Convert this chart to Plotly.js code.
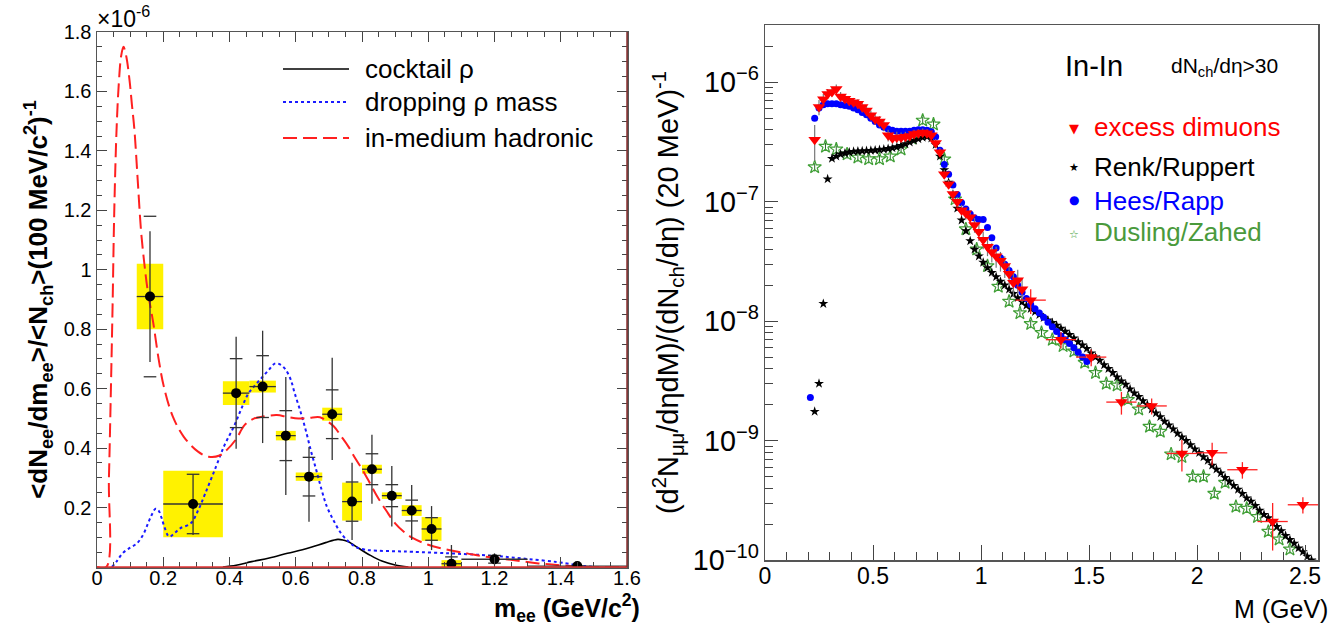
<!DOCTYPE html>
<html><head><meta charset="utf-8">
<script src="https://cdn.plot.ly/plotly-3.0.1.min.js"></script>
<style>html,body{margin:0;padding:0;background:#fff}#chart{width:1343px;height:630px}</style>
</head><body><div id="chart"></div>
<script>
// ---------------- LEFT PANEL DATA (units of 1e-6) ----------------
const ptX      = [0.16, 0.29, 0.42, 0.50, 0.57, 0.64, 0.71, 0.77, 0.83, 0.89, 0.95, 1.01, 1.07, 1.20, 1.45];
const ptY      = [0.91, 0.212, 0.585, 0.607, 0.442, 0.304, 0.514, 0.22, 0.329, 0.24, 0.19, 0.128, 0.011, 0.026, 0.003];
const ptXerr   = [0.04, 0.09, 0.04, 0.04, 0.03, 0.04, 0.03, 0.03, 0.03, 0.03, 0.03, 0.03, 0.03, 0.10, 0.15];
const errUp    = [0.22, 0.10, 0.19, 0.188, 0.197, 0.10, 0.19, 0.131, 0.116, 0.10, 0.086, 0.077, 0.063, 0.02, 0.005];
const errDn    = [0.22, 0.104, 0.187, 0.19, 0.20, 0.152, 0.154, 0.129, 0.116, 0.104, 0.099, 0.071, 0.06, 0.02, 0.005];
const tickErr  = [0.27, 0.10, 0.116, 0.104, 0.084, 0.065, 0.082, 0.066, 0.052, 0.037, 0.035, 0.038, 0.023, 0.013, 0.0];
const boxHalfW = [0.04, 0.09, 0.04, 0.04, 0.03, 0.04, 0.03, 0.03, 0.03, 0.03, 0.03, 0.03, 0.03, 0.0, 0.0];
const sysErr   = [0.11, 0.112, 0.04, 0.02, 0.016, 0.014, 0.022, 0.064, 0.015, 0.011, 0.018, 0.04, 0.012, 0.0, 0.0];

const cocktailX = [0.38, 0.42, 0.467, 0.52, 0.575, 0.62, 0.651, 0.69, 0.727, 0.745, 0.759, 0.79, 0.824, 0.86, 0.90, 0.94];
const cocktailY = [0.0, 0.006, 0.018, 0.03, 0.046, 0.058, 0.068, 0.082, 0.093, 0.09, 0.085, 0.063, 0.04, 0.02, 0.007, 0.0];

const droppingX = [0.045, 0.06, 0.078, 0.10, 0.121, 0.14, 0.154, 0.165, 0.177, 0.186, 0.195, 0.205, 0.218, 0.235, 0.251, 0.283, 0.305, 0.327, 0.359, 0.385, 0.413, 0.435, 0.457, 0.48, 0.50, 0.52, 0.538, 0.555, 0.57, 0.585, 0.597, 0.615, 0.63, 0.646, 0.662, 0.678, 0.694, 0.715, 0.737, 0.76, 0.78, 0.81, 0.846, 0.90, 0.954, 1.062, 1.15, 1.225, 1.30, 1.387, 1.44, 1.473, 1.50];
const droppingY = [0.0, 0.02, 0.047, 0.065, 0.08, 0.11, 0.147, 0.175, 0.196, 0.19, 0.165, 0.13, 0.102, 0.115, 0.13, 0.147, 0.19, 0.248, 0.337, 0.41, 0.472, 0.53, 0.584, 0.615, 0.64, 0.665, 0.685, 0.68, 0.663, 0.63, 0.584, 0.52, 0.461, 0.39, 0.326, 0.26, 0.203, 0.155, 0.113, 0.085, 0.068, 0.058, 0.055, 0.053, 0.051, 0.046, 0.041, 0.035, 0.027, 0.017, 0.008, 0.003, 0.0];

const hadronicX = [0.0, 0.028, 0.036, 0.042, 0.047, 0.052, 0.059, 0.066, 0.073, 0.08, 0.088, 0.098, 0.105, 0.113, 0.123, 0.133, 0.143, 0.153, 0.17, 0.186, 0.202, 0.229, 0.262, 0.305, 0.337, 0.37, 0.392, 0.42, 0.446, 0.475, 0.50, 0.543, 0.575, 0.608, 0.64, 0.673, 0.695, 0.716, 0.737, 0.759, 0.78, 0.802, 0.825, 0.846, 0.873, 0.90, 0.927, 0.954, 1.0, 1.062, 1.12, 1.17, 1.25, 1.333, 1.41, 1.473, 1.6];
const hadronicY = [0.0, 0.0, 0.3, 0.6, 0.876, 1.19, 1.47, 1.63, 1.72, 1.75, 1.72, 1.64, 1.56, 1.47, 1.30, 1.13, 1.02, 0.93, 0.82, 0.70, 0.606, 0.506, 0.438, 0.388, 0.371, 0.375, 0.394, 0.43, 0.478, 0.50, 0.506, 0.511, 0.505, 0.50, 0.502, 0.504, 0.49, 0.472, 0.44, 0.405, 0.365, 0.326, 0.28, 0.237, 0.19, 0.147, 0.118, 0.097, 0.075, 0.057, 0.045, 0.035, 0.024, 0.012, 0.005, 0.001, 0.0];

const leftLegend = ["cocktail ρ", "dropping ρ mass", "in-medium hadronic"];

// ---------------- RIGHT PANEL DATA ----------------
const redLowM = [0.23,0.25,0.27,0.29,0.31,0.33,0.35,0.37,0.39,0.41,0.43,0.45,0.47,0.49,0.51,0.53,0.55,0.57,0.59,0.61,0.63,0.65,0.67,0.69,0.71,0.73,0.75,0.77,0.79,0.81,0.83,0.85,0.87,0.89,0.91,0.93,0.95,0.97,0.99,1.01,1.03,1.05,1.07,1.09,1.11,1.13,1.15,1.17,1.19];
const redLowY = [3.3e-7,6.2e-7,7.2e-7,8.0e-7,8.3e-7,8.8e-7,7.6e-7,7.3e-7,7.0e-7,6.8e-7,6.6e-7,6.2e-7,5.8e-7,5.3e-7,4.9e-7,4.7e-7,4.4e-7,3.6e-7,3.4e-7,3.45e-7,3.45e-7,3.5e-7,3.55e-7,3.7e-7,3.75e-7,3.8e-7,3.75e-7,3.6e-7,3.1e-7,2.6e-7,1.7e-7,1.4e-7,1.16e-7,1.0e-7,8.5e-8,8.0e-8,7.4e-8,6.4e-8,5.6e-8,4.8e-8,4.2e-8,3.8e-8,3.5e-8,3.2e-8,2.9e-8,2.5e-8,2.1e-8,2.2e-8,1.85e-8];
const redLowErr = [1.1e-7,0.9e-7,0.8e-7,0.8e-7,0.7e-7,0.8e-7,0.7e-7,0.6e-7,0.6e-7,0.6e-7,0.6e-7,0.6e-7,0.6e-7,0.5e-7,0.5e-7,0.5e-7,0.5e-7,0.4e-7,0.4e-7,0.4e-7,0.35e-7,0.35e-7,0.3e-7,0.3e-7,0.3e-7,0.3e-7,0.3e-7,0.3e-7,0.25e-7,0.2e-7,1.5e-8,1.2e-8,1.0e-8,1.0e-8,0.9e-8,0.9e-8,0.9e-8,0.9e-8,0.9e-8,0.8e-8,0.7e-8,0.7e-8,0.7e-8,0.6e-8,0.6e-8,0.5e-8,0.5e-8,0.5e-8,0.4e-8];

const redHighM = [1.23, 1.37, 1.51, 1.65, 1.79, 1.93, 2.07, 2.21, 2.35, 2.49];
const redHighY = [1.5e-8, 7.0e-9, 5.0e-9, 2.1e-9, 1.95e-9, 7.8e-10, 7.9e-10, 5.7e-10, 2.1e-10, 2.9e-10];
const redHighErr = [3.5e-9, 1.1e-9, 0.8e-9, 0.45e-9, 0.3e-9, 2.3e-10, 1.7e-10, 0.9e-10, 0.9e-10, 0.45e-10];
const redHighBinHalf = [0.07, 0.07, 0.07, 0.07, 0.07, 0.07, 0.07, 0.07, 0.07, 0.07];

const renkM = [0.23,0.25,0.27,0.29,0.31,0.33,0.35,0.37,0.39,0.41,0.43,0.45,0.47,0.49,0.51,0.53,0.55,0.57,0.59,0.61,0.63,0.65,0.67,0.69,0.71,0.73,0.75,0.77,0.79,0.81,0.83,0.85,0.87,0.89,0.91,0.93,0.95,0.97,0.99,1.01,1.03,1.05,1.07,1.09,1.11,1.13,1.15,1.17,1.19,1.21,1.23,1.25,1.27,1.29,1.31,1.33,1.35,1.37,1.39,1.41,1.43,1.45,1.47,1.49,1.51,1.53,1.55,1.57,1.59,1.61,1.63,1.65,1.67,1.69,1.71,1.73,1.75,1.77,1.79,1.81,1.83,1.85,1.87,1.89,1.91,1.93,1.95,1.97,1.99,2.01,2.03,2.05,2.07,2.09,2.11,2.13,2.15,2.17,2.19,2.21,2.23,2.25,2.27,2.29,2.31,2.33,2.35,2.37,2.39,2.41,2.43,2.45,2.47,2.49,2.51,2.53,2.55];
const renkY = [1.75e-9,3.0e-9,1.4e-8,1.55e-7,2.3e-7,2.4e-7,2.5e-7,2.55e-7,2.6e-7,2.63e-7,2.65e-7,2.66e-7,2.67e-7,2.68e-7,2.7e-7,2.72e-7,2.75e-7,2.78e-7,2.82e-7,2.88e-7,2.95e-7,3.05e-7,3.15e-7,3.25e-7,3.35e-7,3.45e-7,3.5e-7,3.4e-7,3.0e-7,2.4e-7,1.85e-7,1.45e-7,1.15e-7,8.8e-8,7.0e-8,5.7e-8,4.7e-8,4.0e-8,3.5e-8,3.1e-8,2.8e-8,2.55e-8,2.35e-8,2.15e-8,2.0e-8,1.85e-8,1.7e-8,1.57e-8,1.45e-8,1.35e-8,1.27e-8,1.2e-8,1.13e-8,1.07e-8,1.02e-8,9.7e-9,9.2e-9,8.7e-9,8.2e-9,7.7e-9,7.2e-9,6.7e-9,6.3e-9,5.9e-9,5.4e-9,5.0e-9,4.7e-9,4.3e-9,4.0e-9,3.7e-9,3.4e-9,3.15e-9,2.95e-9,2.7e-9,2.5e-9,2.33e-9,2.15e-9,2.0e-9,1.83e-9,1.7e-9,1.58e-9,1.45e-9,1.35e-9,1.25e-9,1.15e-9,1.07e-9,1.0e-9,9.2e-10,8.5e-10,7.9e-10,7.3e-10,6.8e-10,6.2e-10,5.75e-10,5.35e-10,4.9e-10,4.55e-10,4.2e-10,3.9e-10,3.6e-10,3.3e-10,3.1e-10,2.85e-10,2.6e-10,2.4e-10,2.25e-10,2.05e-10,1.9e-10,1.75e-10,1.6e-10,1.48e-10,1.38e-10,1.26e-10,1.17e-10,1.07e-10,1.0e-10,0.93e-10];

const heesM = [0.21,0.23,0.25,0.27,0.29,0.31,0.33,0.35,0.37,0.39,0.41,0.43,0.45,0.47,0.49,0.51,0.53,0.55,0.57,0.59,0.61,0.63,0.65,0.67,0.69,0.71,0.73,0.75,0.77,0.79,0.81,0.83,0.85,0.87,0.89,0.91,0.93,0.95,0.97,0.99,1.01,1.03,1.05,1.07,1.09,1.11,1.13,1.15,1.17,1.19,1.21,1.23,1.25,1.27,1.29,1.31,1.33,1.35,1.37,1.39,1.41,1.43,1.45,1.47,1.49];
const heesY = [2.3e-9,5.0e-7,6.1e-7,6.5e-7,6.6e-7,6.6e-7,6.6e-7,6.5e-7,6.4e-7,6.3e-7,6.1e-7,5.9e-7,5.6e-7,5.35e-7,5.0e-7,4.7e-7,4.4e-7,4.2e-7,4.07e-7,3.97e-7,3.9e-7,3.9e-7,3.9e-7,3.9e-7,3.97e-7,4.0e-7,4.0e-7,3.97e-7,3.85e-7,3.5e-7,2.7e-7,2.05e-7,1.7e-7,1.38e-7,1.15e-7,9.8e-8,8.7e-8,7.9e-8,7.3e-8,7.1e-8,7.1e-8,6.1e-8,5.0e-8,4.1e-8,3.4e-8,3.0e-8,2.65e-8,2.35e-8,2.0e-8,1.75e-8,1.55e-8,1.38e-8,1.27e-8,1.17e-8,1.08e-8,9.8e-9,9.0e-9,8.2e-9,7.5e-9,7.0e-9,6.5e-9,6.0e-9,5.5e-9,5.0e-9,4.6e-9];

const duslingM = [0.23,0.28,0.33,0.38,0.43,0.48,0.53,0.58,0.63,0.68,0.73,0.78,0.83,0.88,0.93,0.98,1.03,1.08,1.13,1.18,1.23,1.28,1.33,1.38,1.43,1.48,1.53,1.58,1.63,1.68,1.73,1.78,1.83,1.88,1.93,1.98,2.03,2.08,2.13,2.18,2.23,2.28,2.33,2.38,2.43];
const duslingY = [1.95e-7,2.9e-7,2.75e-7,2.5e-7,2.35e-7,2.28e-7,2.28e-7,2.4e-7,2.75e-7,3.4e-7,4.8e-7,4.45e-7,2.27e-7,1.05e-7,5.9e-8,4.0e-8,2.9e-8,1.95e-8,1.46e-8,1.17e-8,9.5e-9,8.0e-9,7.0e-9,6.2e-9,5.6e-9,4.5e-9,3.7e-9,3.0e-9,2.9e-9,2.2e-9,1.83e-9,1.31e-9,1.19e-9,7.7e-10,7.3e-10,5.0e-10,5.0e-10,3.6e-10,4.45e-10,2.8e-10,2.7e-10,2.3e-10,1.73e-10,1.49e-10,1.23e-10];

const rightLegend = ["excess dimuons", "Renk/Ruppert", "Hees/Rapp", "Dusling/Zahed"];

// ---------------- helpers ----------------
const W = 1343, H = 630;
const px = v => v / W;
const py = v => 1 - v / H;
const FONT = "Liberation Sans, Arial, Helvetica, sans-serif";

const boxBase = ptY.map((v, i) => v - sysErr[i]);
const boxH = sysErr.map(v => 2 * v);
const boxW = boxHalfW.map(v => 2 * v);
const tickX = ptX.concat(ptX);
const tickY = ptY.map((v, i) => v + tickErr[i]).concat(ptY.map((v, i) => v - tickErr[i]));
const duslingErr = duslingY.map(v => 0.08 * v);

const traces = [
  { type: 'bar', x: ptX, y: boxH, base: boxBase, width: boxW, xaxis: 'x', yaxis: 'y',
    marker: { color: '#fff200', line: { width: 0 } }, showlegend: false, hoverinfo: 'skip' },
  { type: 'scatter', mode: 'lines', x: cocktailX, y: cocktailY, xaxis: 'x', yaxis: 'y', name: leftLegend[0],
    line: { color: '#000', width: 1.6, shape: 'spline' }, showlegend: false },
  { type: 'scatter', mode: 'lines', x: droppingX, y: droppingY, xaxis: 'x', yaxis: 'y', name: leftLegend[1],
    line: { color: '#1a1aff', width: 2, dash: 'dot', shape: 'spline' }, showlegend: false },
  { type: 'scatter', mode: 'lines', x: hadronicX, y: hadronicY, xaxis: 'x', yaxis: 'y', name: leftLegend[2],
    line: { color: '#ff2020', width: 2, dash: '14px,6px', shape: 'spline' }, showlegend: false },
  { type: 'scatter', mode: 'markers', x: tickX, y: tickY, xaxis: 'x', yaxis: 'y',
    marker: { symbol: 'line-ew', size: 9, line: { width: 1.3, color: '#333' } }, showlegend: false, hoverinfo: 'skip' },
  { type: 'scatter', mode: 'markers', x: ptX, y: ptY, xaxis: 'x', yaxis: 'y', name: 'data',
    marker: { symbol: 'circle', size: 10, color: '#000' },
    error_x: { type: 'data', array: ptXerr, width: 0, thickness: 1.3, color: '#333' },
    error_y: { type: 'data', array: errUp, arrayminus: errDn, width: 0, thickness: 1.3, color: '#333' },
    showlegend: false },

  // right panel
  { type: 'scatter', mode: 'markers', x: duslingM, y: duslingY, xaxis: 'x2', yaxis: 'y2', name: rightLegend[3],
    marker: { symbol: 'star-open', size: 10, color: '#3f9f35', line: { width: 1.2, color: '#3f9f35' } },
    error_y: { type: 'data', array: duslingErr, width: 0, thickness: 1, color: '#2d6b2d' }, showlegend: false },
  { type: 'scatter', mode: 'markers', x: renkM, y: renkY, xaxis: 'x2', yaxis: 'y2', name: rightLegend[1],
    marker: { symbol: 'star', size: 7.5, color: '#000' }, showlegend: false },
  { type: 'scatter', mode: 'markers', x: heesM, y: heesY, xaxis: 'x2', yaxis: 'y2', name: rightLegend[2],
    marker: { symbol: 'circle', size: 7, color: '#0000ff' }, showlegend: false },
  { type: 'scatter', mode: 'markers', x: redLowM, y: redLowY, xaxis: 'x2', yaxis: 'y2', name: rightLegend[0],
    marker: { symbol: 'triangle-down', size: 11, color: '#ff0000' },
    error_y: { type: 'data', array: redLowErr, width: 0, thickness: 1.2, color: '#777' }, showlegend: false },
  { type: 'scatter', mode: 'markers', x: redHighM, y: redHighY, xaxis: 'x2', yaxis: 'y2', name: rightLegend[0],
    marker: { symbol: 'triangle-down', size: 11, color: '#ff0000' },
    error_x: { type: 'data', array: redHighBinHalf, width: 0, thickness: 1.3, color: '#ff2020' },
    error_y: { type: 'data', array: redHighErr, width: 0, thickness: 1.3, color: '#ff2020' }, showlegend: false }
];

const tickFont = { family: FONT, size: 20, color: '#000' };
const LX0 = 97, LX1 = 627;
const layout = {
  width: W, height: H,
  margin: { l: 0, r: 0, t: 0, b: 0 },
  paper_bgcolor: '#fff', plot_bgcolor: '#fff',
  showlegend: false, barmode: 'overlay',
  font: { family: FONT, color: '#000' },
  xaxis: {
    domain: [px(LX0), px(LX1)], range: [0, 1.6], anchor: 'y',
    tickmode: 'linear', tick0: 0, dtick: 0.2,
    ticks: 'inside', ticklen: 10, tickwidth: 1, tickcolor: '#444',
    minor: { ticks: 'inside', dtick: 0.05, ticklen: 5, tickwidth: 1, tickcolor: '#444' },
    showline: true, linecolor: '#555', linewidth: 1.5, mirror: 'allticks',
    showgrid: false, zeroline: false, tickfont: tickFont, ticklabelstandoff: -8
  },
  yaxis: {
    domain: [1 - 567 / H, 1 - 32 / H], range: [0, 1.8], anchor: 'x',
    tickmode: 'array', tickvals: [0.2, 0.4, 0.6, 0.8, 1.0, 1.2, 1.4, 1.6, 1.8],
    ticktext: ['0.2', '0.4', '0.6', '0.8', '1', '1.2', '1.4', '1.6', '1.8'],
    ticks: 'inside', ticklen: 10, tickwidth: 1, tickcolor: '#444',
    minor: { ticks: 'inside', dtick: 0.05, ticklen: 5, tickwidth: 1, tickcolor: '#444' },
    showline: true, linecolor: '#555', linewidth: 1.5, mirror: 'allticks',
    showgrid: false, zeroline: false, tickfont: tickFont,
    title: { text: '<b>&lt;dN<sub>ee</sub>/dm<sub>ee</sub>&gt;/&lt;N<sub>ch</sub>&gt;(100 MeV/c<sup>2</sup>)<sup>-1</sup></b>',
             font: { family: FONT, size: 26, color: '#000' }, standoff: 8 }
  },
  xaxis2: {
    domain: [px(765), px(1318)], range: [0, 2.56], anchor: 'y2',
    tickmode: 'linear', tick0: 0, dtick: 0.5,
    ticks: 'inside', ticklen: 15, tickwidth: 1, tickcolor: '#444',
    minor: { ticks: 'inside', dtick: 0.1, ticklen: 8, tickwidth: 1, tickcolor: '#444' },
    showline: true, linecolor: '#555', linewidth: 1.5, mirror: true,
    showgrid: false, zeroline: false, tickfont: { family: FONT, size: 23, color: '#000' }, ticklabelstandoff: -5
  },
  yaxis2: {
    domain: [1 - 560 / H, 1 - 25 / H], type: 'log', range: [-10, -5.52], anchor: 'x2',
    dtick: 1, exponentformat: 'power',
    ticks: 'inside', ticklen: 13, tickwidth: 1, tickcolor: '#444',
    minor: { ticks: 'inside', dtick: 'D1', ticklen: 8, tickwidth: 1, tickcolor: '#444' },
    showline: true, linecolor: '#555', linewidth: 1.5, mirror: true,
    showgrid: false, zeroline: false, tickfont: { family: FONT, size: 23, color: '#000' },
    title: { text: '(d<sup>2</sup>N<sub>μμ</sub>/dηdM)/(dN<sub>ch</sub>/dη) (20 MeV)<sup>-1</sup>',
             font: { family: FONT, size: 29, color: '#000' }, standoff: 5 }
  },
  shapes: [
    { type: 'line', xref: 'paper', yref: 'paper', x0: px(LX0), x1: px(LX1), y0: py(567), y1: py(567), line: { color: '#e03030', width: 1.5 } },
    { type: 'line', xref: 'paper', yref: 'paper', x0: px(LX1), x1: px(LX1), y0: py(567), y1: py(32), line: { color: '#8a3030', width: 1.5 } },
    { type: 'line', xref: 'paper', yref: 'paper', x0: px(283), x1: px(349), y0: py(69), y1: py(69), line: { color: '#000', width: 1.6 } },
    { type: 'line', xref: 'paper', yref: 'paper', x0: px(283), x1: px(349), y0: py(102), y1: py(102), line: { color: '#1a1aff', width: 2, dash: 'dot' } },
    { type: 'line', xref: 'paper', yref: 'paper', x0: px(283), x1: px(349), y0: py(138), y1: py(138), line: { color: '#ff2020', width: 2, dash: '14px,6px' } }
  ],
  annotations: [
    { xref: 'paper', yref: 'paper', x: px(95), y: py(17), xanchor: 'left', yanchor: 'middle', showarrow: false,
      text: '×10<sup>-6</sup>', font: { family: FONT, size: 23, color: '#000' } },
    { xref: 'paper', yref: 'paper', x: px(363), y: py(69), xanchor: 'left', yanchor: 'middle', showarrow: false,
      text: leftLegend[0], font: { family: FONT, size: 26, color: '#000' } },
    { xref: 'paper', yref: 'paper', x: px(363), y: py(102), xanchor: 'left', yanchor: 'middle', showarrow: false,
      text: leftLegend[1], font: { family: FONT, size: 26, color: '#000' } },
    { xref: 'paper', yref: 'paper', x: px(363), y: py(138), xanchor: 'left', yanchor: 'middle', showarrow: false,
      text: leftLegend[2], font: { family: FONT, size: 26, color: '#000' } },
    { xref: 'paper', yref: 'paper', x: px(642), y: py(608), xanchor: 'right', yanchor: 'middle', showarrow: false,
      text: '<b>m<sub>ee</sub> (GeV/c<sup>2</sup>)</b>', font: { family: FONT, size: 25, color: '#000' } },
    { xref: 'paper', yref: 'paper', x: px(1330), y: py(609), xanchor: 'right', yanchor: 'middle', showarrow: false,
      text: 'M (GeV)', font: { family: FONT, size: 25, color: '#000' } },
    { xref: 'paper', yref: 'paper', x: px(1063), y: py(66), xanchor: 'left', yanchor: 'middle', showarrow: false,
      text: 'In-In', font: { family: FONT, size: 29, color: '#000' } },
    { xref: 'paper', yref: 'paper', x: px(1169), y: py(67), xanchor: 'left', yanchor: 'middle', showarrow: false,
      text: 'dN<sub>ch</sub>/dη&gt;30', font: { family: FONT, size: 21, color: '#000' } },
    { xref: 'paper', yref: 'paper', x: px(1074), y: py(129), xanchor: 'center', yanchor: 'middle', showarrow: false,
      text: '▼', font: { family: 'DejaVu Sans', size: 13, color: '#ff0000' } },
    { xref: 'paper', yref: 'paper', x: px(1092), y: py(127), xanchor: 'left', yanchor: 'middle', showarrow: false,
      text: rightLegend[0], font: { family: FONT, size: 26, color: '#ff0000' } },
    { xref: 'paper', yref: 'paper', x: px(1074), y: py(168), xanchor: 'center', yanchor: 'middle', showarrow: false,
      text: '★', font: { family: 'DejaVu Sans', size: 11, color: '#000' } },
    { xref: 'paper', yref: 'paper', x: px(1092), y: py(167), xanchor: 'left', yanchor: 'middle', showarrow: false,
      text: rightLegend[1], font: { family: FONT, size: 26, color: '#000' } },
    { xref: 'paper', yref: 'paper', x: px(1074), y: py(200), xanchor: 'center', yanchor: 'middle', showarrow: false,
      text: '●', font: { family: 'DejaVu Sans', size: 12, color: '#0000ff' } },
    { xref: 'paper', yref: 'paper', x: px(1092), y: py(201), xanchor: 'left', yanchor: 'middle', showarrow: false,
      text: rightLegend[2], font: { family: FONT, size: 26, color: '#0000ff' } },
    { xref: 'paper', yref: 'paper', x: px(1074), y: py(234), xanchor: 'center', yanchor: 'middle', showarrow: false,
      text: '☆', font: { family: 'DejaVu Sans', size: 11, color: '#3f9f35' } },
    { xref: 'paper', yref: 'paper', x: px(1092), y: py(232), xanchor: 'left', yanchor: 'middle', showarrow: false,
      text: rightLegend[3], font: { family: FONT, size: 26, color: '#4a9a3c' } }
  ]
};

Plotly.newPlot('chart', traces, layout, { displayModeBar: false, staticPlot: true });
</script>
</body></html>
